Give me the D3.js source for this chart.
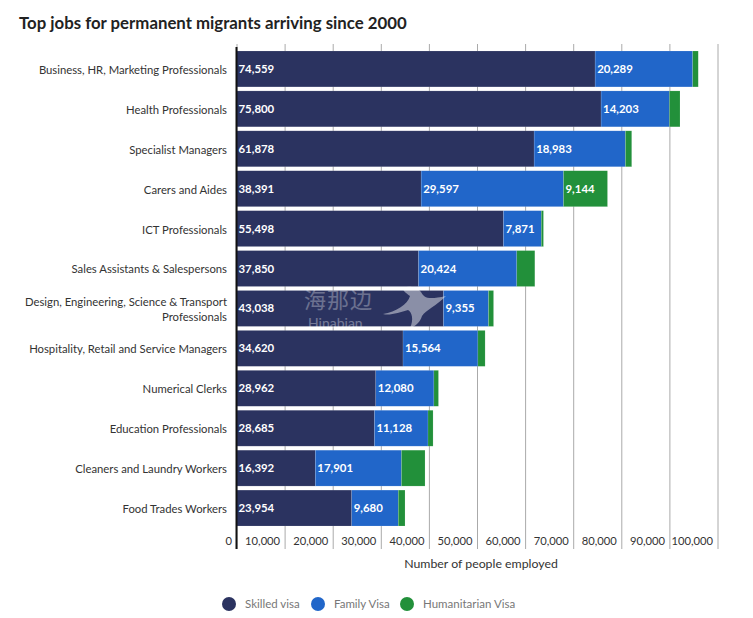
<!DOCTYPE html>
<html>
<head>
<meta charset="utf-8">
<script src="https://cdn.jsdelivr.net/npm/d3@7"></script>
<style>
  body { margin: 0; background: #fff; }
  svg { display: block; font-family: Lato, sans-serif; }
</style>
</head>
<body>
<svg id="svg" width="753" height="618"></svg>
<script>
const categories = [
  "Business, HR, Marketing Professionals",
  "Health Professionals",
  "Specialist Managers",
  "Carers and Aides",
  "ICT Professionals",
  "Sales Assistants & Salespersons",
  "Design, Engineering, Science & Transport Professionals",
  "Hospitality, Retail and Service Managers",
  "Numerical Clerks",
  "Education Professionals",
  "Cleaners and Laundry Workers",
  "Food Trades Workers",
];
const skilled = [74559, 75800, 61878, 38391, 55498, 37850, 43038, 34620, 28962, 28685, 16392, 23954];
const family = [20289, 14203, 18983, 29597, 7871, 20424, 9355, 15564, 12080, 11128, 17901, 9680];
// 人道ビザは小さい棒のラベルが無いので目測
const humanitarian = [1150, 2200, 1300, 9144, 450, 3750, 1050, 1500, 950, 1050, 4900, 1400];
const seriesNames = ["Skilled visa", "Family Visa", "Humanitarian Visa"];
const seriesColors = ["#2b3360", "#2166c9", "#22903a"];
const xTicks = [0, 10000, 20000, 30000, 40000, 50000, 60000, 70000, 80000, 90000, 100000];

const svg = d3.select("#svg");
const x = d3.scaleLinear().domain([0, 100000]).range([236.5, 717.5]);
const y = d3.scaleBand().domain(categories).range([49, 528]).paddingInner(0.1).paddingOuter(0.05);

svg.append("text")
  .attr("x", 19).attr("y", 29)
  .attr("font-size", 16.8).attr("font-weight", 700).attr("fill", "#222")
  .text("Top jobs for permanent migrants arriving since 2000");

// 目盛りと縦のグリッド
const axis = svg.append("g")
  .attr("transform", "translate(0,549)")
  .call(d3.axisBottom(x).tickValues(xTicks).tickSize(-505).tickSizeOuter(0).tickFormat(d3.format(",")));
axis.select(".domain").remove();
axis.selectAll(".tick line").attr("stroke", "#aaa").attr("stroke-width", 1);
axis.selectAll(".tick text")
  .attr("y", -4).attr("dy", 0)
  .attr("text-anchor", "end")
  .attr("dx", -5)
  .attr("font-size", 11.2).attr("font-family", "Lato, sans-serif").attr("fill", "#333");

// 積み上げ棒
const rows = categories.map((c, i) => ({ category: c, 0: skilled[i], 1: family[i], 2: humanitarian[i] }));
const stacked = d3.stack().keys([0, 1, 2])(rows);
const labelMin = 7000;

const layers = svg.append("g").selectAll("g")
  .data(stacked)
  .join("g")
  .attr("fill", (d) => seriesColors[d.key]);

layers.selectAll("rect")
  .data((d) => d)
  .join("rect")
  .attr("x", (d) => x(d[0]))
  .attr("y", (d) => y(d.data.category))
  .attr("width", (d) => x(d[1]) - x(d[0]))
  .attr("height", y.bandwidth())
  .attr("stroke", "#fff").attr("stroke-opacity", 0.25).attr("stroke-width", 0.5);

layers.selectAll("text")
  .data((d) => d.filter((v) => v[1] - v[0] >= labelMin))
  .join("text")
  .attr("x", (d) => x(d[0]) + 2)
  .attr("y", (d) => y(d.data.category) + y.bandwidth() / 2)
  .attr("dy", "0.35em")
  .attr("font-size", 11.4).attr("font-weight", 700).attr("fill", "#fff")
  .text((d) => d3.format(",")(d[1] - d[0]));

// 左の軸線
svg.append("line")
  .attr("x1", x(0)).attr("x2", x(0))
  .attr("y1", 47).attr("y2", 549)
  .attr("stroke", "#111").attr("stroke-width", 2);

// カテゴリラベル（長いものは2行）
const catLabels = svg.append("g").selectAll("text")
  .data(categories)
  .join("text")
  .attr("text-anchor", "end")
  .attr("font-size", 11.3).attr("fill", "#333")
  .attr("y", (d) => y(d) + y.bandwidth() / 2 + 1);

catLabels.each(function (d) {
  const lines = d.startsWith("Design") ? ["Design, Engineering, Science & Transport", "Professionals"] : [d];
  d3.select(this).selectAll("tspan")
    .data(lines)
    .join("tspan")
    .attr("x", 227)
    .attr("dy", (l, i) => (i == 0 ? (lines.length == 1 ? "0.35em" : "-0.35em") : "1.35em"))
    .text((l) => l);
});

svg.append("text")
  .attr("x", 481).attr("y", 568)
  .attr("text-anchor", "middle")
  .attr("font-size", 12.3).attr("fill", "#333")
  .text("Number of people employed");

// 凡例
const legendX = [229, 318, 407];
const legend = svg.append("g").selectAll("g")
  .data(seriesNames)
  .join("g")
  .attr("transform", (d, i) => "translate(" + legendX[i] + ",604)");
legend.append("circle").attr("r", 7).attr("fill", (d, i) => seriesColors[i]);
legend.append("text")
  .attr("x", 16).attr("dy", "0.35em")
  .attr("font-size", 11.5).attr("fill", "#777")
  .text((d) => d);

// 透かし
const mark = svg.append("g").attr("fill", "#fff");
mark.append("text").attr("x", 304).attr("y", 308).attr("opacity", 0.3)
  .attr("font-family", "'Noto Sans CJK SC'").attr("font-size", 22).attr("letter-spacing", 1).text("海那边");
mark.append("text").attr("x", 308).attr("y", 328).attr("opacity", 0.35)
  .attr("font-size", 14).text("Hinabian");
mark.append("path").attr("opacity", 0.45)
  .attr("d", "M383 314 C396 312 408 304 410 296 C406 293 402 290 403 288 C410 285 418 288 421 292 C424 298 428 300 446 296 C436 306 426 310 422 316 C420 322 416 326 410 328 C414 320 412 312 408 310 C400 312 390 316 383 314 Z");
</script>
</body>
</html>
